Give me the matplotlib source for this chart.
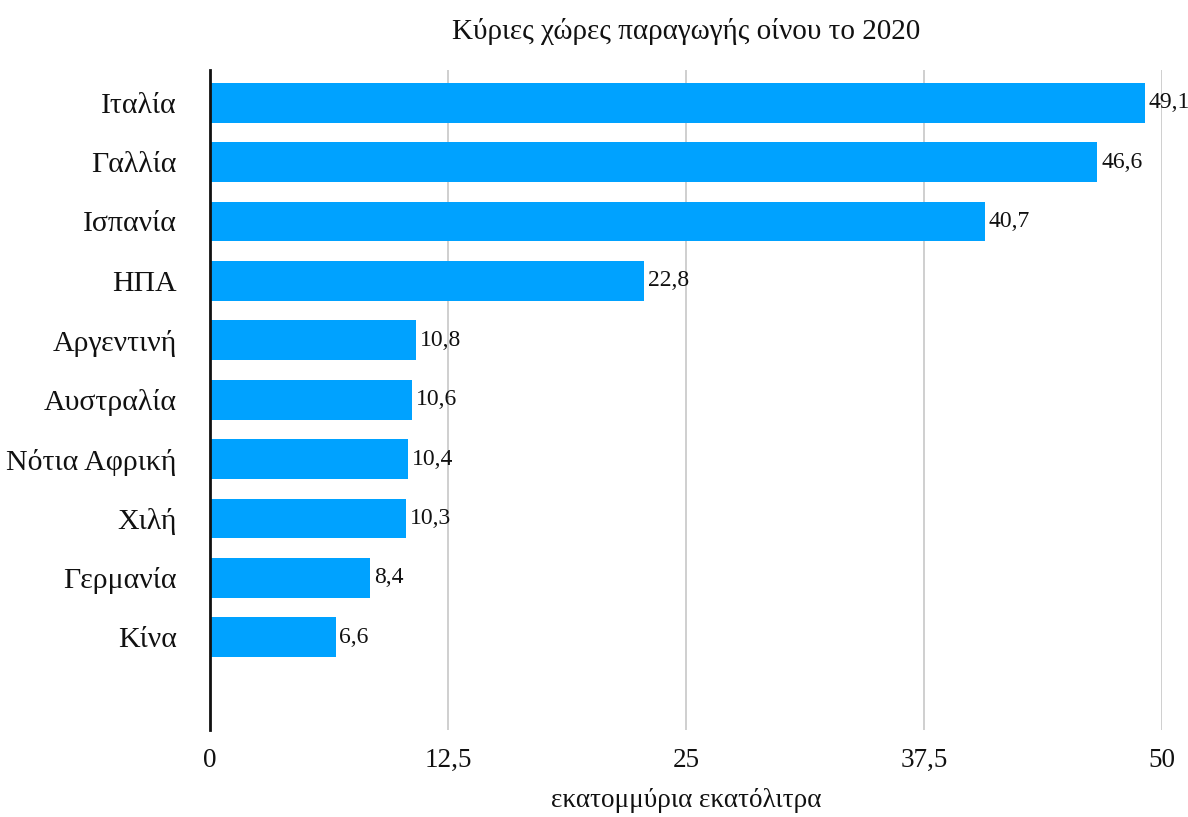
import matplotlib.pyplot as plt

# wine production 2020, millions of hectolitres
countries = ["Ιταλία", "Γαλλία", "Ισπανία", "ΗΠΑ", "Αργεντινή", "Αυστραλία",
             "Νότια Αφρική", "Χιλή", "Γερμανία", "Κίνα"]
production = [49.1, 46.6, 40.7, 22.8, 10.8, 10.6, 10.4, 10.3, 8.4, 6.6]
xticks = [0, 12.5, 25, 37.5, 50]

plt.rcParams['font.family'] = ['Liberation Serif', 'DejaVu Serif']

fig = plt.figure(figsize=(11.88, 8.17), dpi=100)
ax = fig.add_axes([210/1188, 1 - 730/817, 952/1188, 660/817])

pos = list(range(len(countries)))
ax.barh(pos, production, height=0.67, color="#00A2FF", zorder=2)
for y, v in zip(pos, production):
    ax.text(v + 0.2, y, f"{v:.1f}".replace(".", ","), va="center", ha="left",
            fontsize=17, color="#111111", zorder=3)

ax.set_xlim(0, 50)
ax.set_ylim(10.56, -0.55)
ax.set_yticks(pos)
ax.set_yticklabels(countries, fontsize=21.5, color="#111111")
ax.set_xticks(xticks)
ax.set_xticklabels([str(t).replace(".", ",").replace(",0", "") for t in xticks],
                   fontsize=19.5, color="#111111")
ax.tick_params(axis="y", length=0, pad=24)
ax.tick_params(axis="x", length=0, pad=13)
ax.grid(axis="x", color="#cccccc", linewidth=1.3, zorder=0)
for s in ["top", "right", "bottom"]:
    ax.spines[s].set_visible(False)
ax.spines["left"].set_linewidth(2)
ax.spines["left"].set_color("#111111")
ax.spines["left"].set_zorder(4)

ax.set_title("Κύριες χώρες παραγωγής οίνου το 2020", fontsize=21, pad=22,
             color="#111111")
ax.set_xlabel("εκατομμύρια εκατόλιτρα", fontsize=19.5, labelpad=11, color="#111111")

fig.savefig("out.png", dpi=100)
